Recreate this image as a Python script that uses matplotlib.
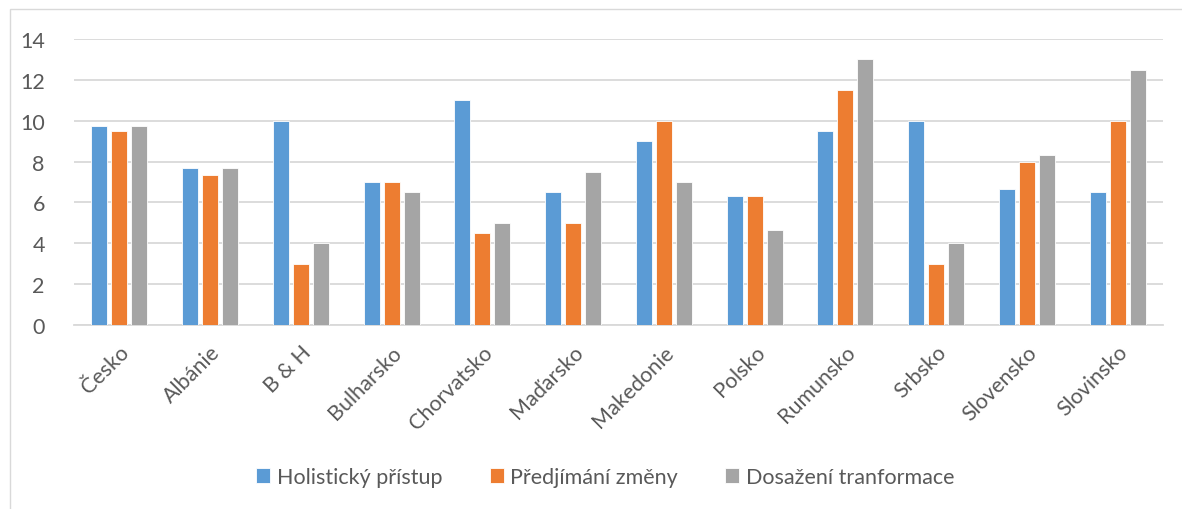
import matplotlib
matplotlib.use("Agg")
import matplotlib.pyplot as plt
import numpy as np
from matplotlib.patches import Rectangle

plt.rcParams["font.family"] = ["Lato", "DejaVu Sans"]

countries = ["Česko", "Albánie", "B & H", "Bulharsko", "Chorvatsko", "Maďarsko",
             "Makedonie", "Polsko", "Rumunsko", "Srbsko", "Slovensko", "Slovinsko"]
holisticky = [9.75, 7.67, 10, 7, 11, 6.5, 9, 6.33, 9.5, 10, 6.67, 6.5]
predjimani = [9.5, 7.33, 3, 7, 4.5, 5, 10, 6.33, 11.5, 3, 8, 10]
dosazeni = [9.75, 7.67, 4, 6.5, 5, 7.5, 7, 4.67, 13, 4, 8.33, 12.5]
series_names = ["Holistický přístup", "Předjímání změny", "Dosažení tranformace"]
colors = ["#5B9BD5", "#ED7D31", "#A5A5A5"]

fig = plt.figure(figsize=(11.82, 5.10), dpi=100)
ax = fig.add_axes([74 / 1182, 1 - 326 / 510, (1163 - 74) / 1182, (326 - 40) / 510])

x = np.arange(len(countries))
w = 0.176
step = 0.22
for k, (vals, name, c) in enumerate(zip([holisticky, predjimani, dosazeni], series_names, colors)):
    ax.bar(x + (k - 1) * step, vals, width=w, color=c, label=name,
           edgecolor="white", linewidth=0.6, zorder=3)

ax.set_xlim(-0.5, len(countries) - 0.5)
ax.set_ylim(0, 14)
ax.set_yticks(range(0, 15, 2))
ax.grid(axis="y", color="#D9D9D9", linewidth=1.3, zorder=0)
for s in ["top", "right", "left"]:
    ax.spines[s].set_visible(False)
ax.spines["bottom"].set_color("#D9D9D9")
ax.spines["bottom"].set_linewidth(1.3)
ax.tick_params(axis="both", length=0, labelsize=15.5, labelcolor="#595959")
ax.tick_params(axis="y", pad=21)
ax.set_xticks(x)
ax.set_xticklabels(countries, rotation=45, ha="right", va="top", rotation_mode="anchor")
ax.tick_params(axis="x", pad=12)

fig.legend(loc="center", bbox_to_anchor=(0.512, 1 - 478 / 510), ncol=3, frameon=False,
           fontsize=15.5, labelcolor="#595959", handlelength=0.65, handleheight=0.65,
           handletextpad=0.3, columnspacing=2.2)

# chart-area frame (runs off the right and bottom edges like the source)
fig.patches.append(Rectangle((10 / 1182, -10 / 510), 1200 / 1182, 510 / 510,
                             transform=fig.transFigure, fill=False,
                             edgecolor="#D9D9D9", linewidth=1))

fig.savefig("out.png", dpi=100)
